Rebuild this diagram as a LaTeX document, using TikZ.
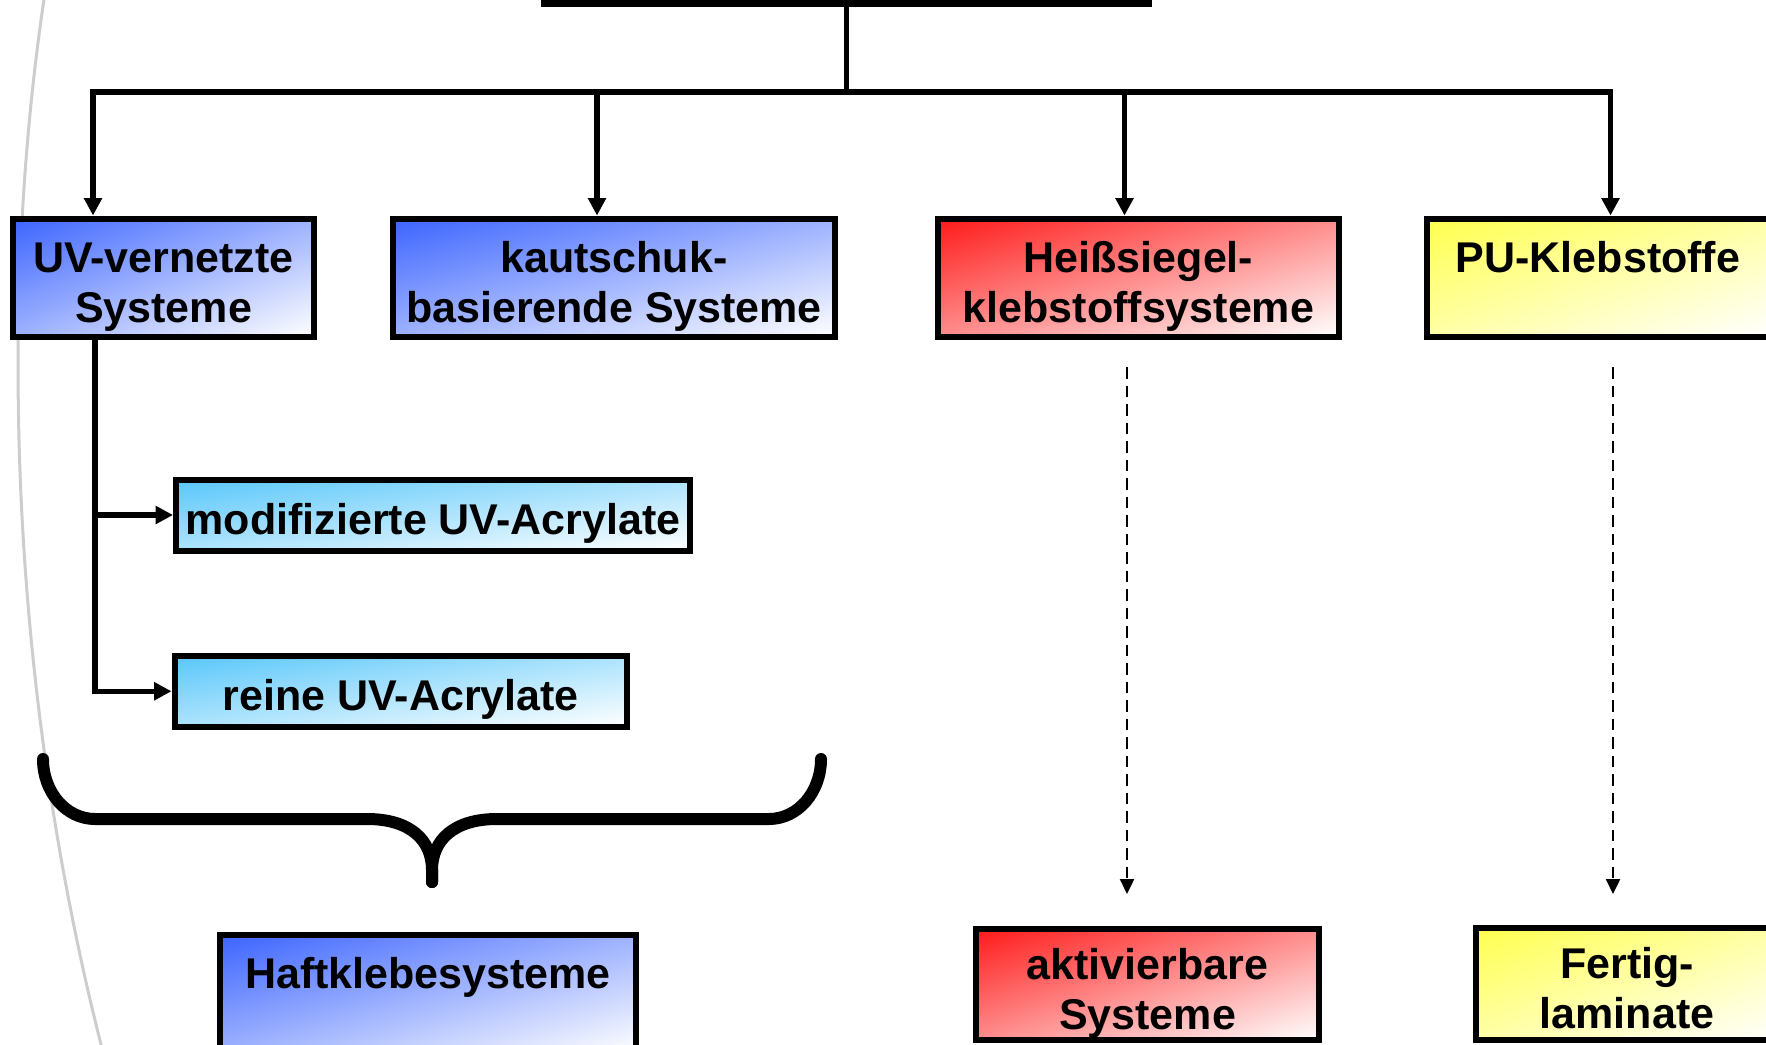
\documentclass[tikz,border=0pt]{standalone}
\usepackage{fontspec}
\setmainfont{Liberation Sans}
\usetikzlibrary{arrows.meta}
\definecolor{arcgray}{RGB}{205,205,205}
% diagonal gradients: saturated at top-left, white at bottom-right
% (shading area 25bp..75bp is mapped onto the path's bounding box)
\pgfdeclarefunctionalshading{gradblue}{\pgfpointorigin}{\pgfpoint{100bp}{100bp}}{}{%
  75 exch sub exch 25 sub add 100 div
  dup 0 lt {pop 0} if dup 1 gt {pop 1} if
  dup dup 0.765 mul 0.235 add 3 1 roll 0.608 mul 0.392 add exch 0 mul 1 add}
\pgfdeclarefunctionalshading{gradred}{\pgfpointorigin}{\pgfpoint{100bp}{100bp}}{}{%
  75 exch sub exch 25 sub add 100 div
  dup 0 lt {pop 0} if dup 1 gt {pop 1} if
  dup dup 0 mul 1 add 3 1 roll 0.9 mul 0.1 add exch 0.9 mul 0.1 add}
\pgfdeclarefunctionalshading{gradyel}{\pgfpointorigin}{\pgfpoint{100bp}{100bp}}{}{%
  75 exch sub exch 25 sub add 100 div
  dup 0 lt {pop 0} if dup 1 gt {pop 1} if
  dup dup 0 mul 1 add 3 1 roll 0 mul 1 add exch 0.69 mul 0.31 add}
\pgfdeclarefunctionalshading{gradcyan}{\pgfpointorigin}{\pgfpoint{100bp}{100bp}}{}{%
  75 exch sub exch 25 sub add 100 div
  dup 0 lt {pop 0} if dup 1 gt {pop 1} if
  dup dup 0.65 mul 0.35 add 3 1 roll 0.22 mul 0.78 add exch 0.02 mul 0.98 add}
\newcommand{\TopR}{\rule{0pt}{25pt}}
\newcommand{\BotR}{\rule[-5.5pt]{0pt}{5.5pt}}
\begin{document}
\begin{tikzpicture}[x=0.5pt,y=-0.5pt,
  box/.style={draw=black, line width=3pt, inner sep=0pt, align=center,
    font=\fontsize{21.5pt}{25pt}\selectfont\bfseries},
  blubox/.style={box, shade, shading=gradblue},
  redbox/.style={box, shade, shading=gradred},
  yelbox/.style={box, shade, shading=gradyel},
  cyabox/.style={box, shade, shading=gradcyan},
  conn/.style={line width=2.6pt},
  arr/.style={conn, -{Triangle[length=8.75pt,width=8.75pt]}},
  darr/.style={line width=1.15pt, dash pattern=on 5.75pt off 3.5pt,
    -{Triangle[length=7.5pt,width=7pt]}},
  brace/.style={line width=6pt, line cap=round},
  arcline/.style={draw=arcgray, line width=1.5pt}
]
\useasboundingbox (0,0) rectangle (1766,1044);
% faint background arc
\draw[arcline] (47,-20) .. controls (4,250) and (-2,650) .. (106,1064);

% boxes
\node[blubox, minimum width=302.5pt, minimum height=59pt] (top) at (846.5,-55.5) {};
\node[blubox, minimum width=150.5pt, minimum height=59pt] (box1) at (163.5,277.5)
  {\TopR UV-vernetzte\\Systeme\BotR};
\node[blubox, minimum width=221pt, minimum height=59pt] (box2) at (614,277.5)
  {\TopR kautschuk-\\basierende Systeme\BotR};
\node[redbox, minimum width=200.5pt, minimum height=59pt] (box3) at (1138.5,277.5)
  {\TopR Heißsiegel-\\klebstoffsysteme\BotR};
\node[yelbox, minimum width=171pt, minimum height=59pt] (box4) at (1598,277.5)
  {\TopR PU-Klebstoffe\\\BotR};
\node[cyabox, minimum width=257pt, minimum height=35.5pt] (box5) at (433,515)
  {\TopR modifizierte UV-Acrylate\BotR};
\node[cyabox, minimum width=226.25pt, minimum height=35.25pt] (box6) at (400.75,691.25)
  {\TopR reine UV-Acrylate\BotR};
\node[blubox, minimum width=208pt, minimum height=59pt] (box7) at (428,993.7)
  {\TopR Haftklebesysteme\\\BotR};
\node[redbox, minimum width=171.5pt, minimum height=55.5pt] (box8) at (1147.5,984.5)
  {\TopR aktivierbare\\Systeme\BotR};
\node[yelbox, minimum width=151.5pt, minimum height=56pt] (box9) at (1627,984)
  {\TopR Fertig-\\laminate\BotR};

% bus connectors
\coordinate (busC) at (846.5,92);
\coordinate (ax1) at (93,92);
\coordinate (ax2) at (597,92);
\coordinate (ax3) at (1124.5,92);
\coordinate (ax4) at (1610.5,92);
\draw[conn] (top.south) -- (busC);
\draw[arr] (busC) -| (ax1 |- box1.north);
\draw[arr] (busC) -| (ax4 |- box4.north);
\draw[arr] (ax2) -- (ax2 |- box2.north);
\draw[arr] (ax3) -- (ax3 |- box3.north);

% UV branch
\coordinate (ux) at (95,0);
\draw[arr] (box1.south -| ux) |- (box6.west);
\draw[arr] (ux |- box5.west) -- (box5.west);

% dashed arrows
\coordinate (d1s) at (1127,367);
\coordinate (d1e) at (1127,894);
\coordinate (d2s) at (1613,367);
\coordinate (d2e) at (1613,894);
\draw[darr] (d1s) -- (d1e);
\draw[darr] (d2s) -- (d2e);

% brace
\draw[brace] (43,759) .. controls (43,792) and (66,819) .. (95,819) -- (367,819)
  .. controls (410,819) and (432,840) .. (432,870) -- (432,882);
\draw[brace] (821,759) .. controls (821,792) and (798,819) .. (769,819) -- (497,819)
  .. controls (454,819) and (432,840) .. (432,870) -- (432,882);
\end{tikzpicture}
\end{document}
